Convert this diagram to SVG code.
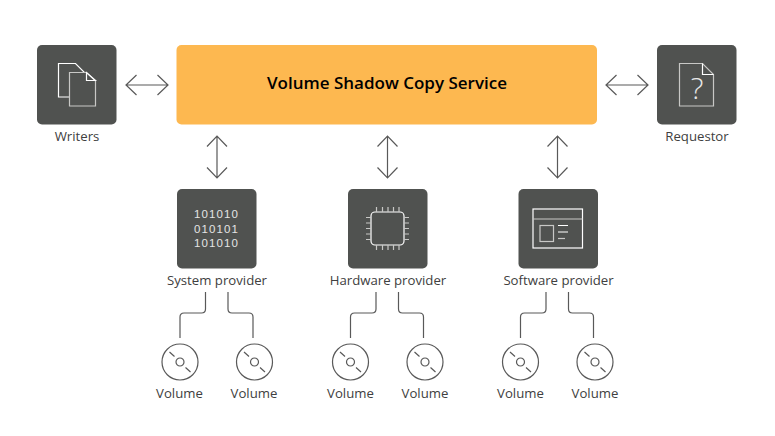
<svg xmlns="http://www.w3.org/2000/svg" width="775" height="436" viewBox="0 0 775 436">
<style>
.box{fill:#505250}
.lbl{font-family:"Open Sans","Noto Sans",sans-serif;font-size:13.2px;fill:#404040;text-anchor:middle}
.ln{fill:none;stroke:#595959;stroke-width:1.2}
.ic{fill:none;stroke:#fff;stroke-width:1.2}
.ig{fill:none;stroke:#c8c8c6;stroke-width:1.2}
.bits{font-family:"Liberation Sans",sans-serif;font-size:11.500px;fill:#e4e4e4;text-anchor:middle;letter-spacing:1.100px}
</style>
<defs>
<g id="harrow"><path class="ln" d="M-21 0H21M-10.500 -10L-21 0L-10.500 10M10.500 -10L21 0L10.500 10"/></g>
<g id="varrow"><path class="ln" d="M0 -21V21M-10 -10.500L0 -21L10 -10.500M-10 10.500L0 21L10 10.500"/></g>
<g id="vol"><circle class="ln" r="18"/><circle class="ln" r="4"/><path class="ln" d="M-10.500 -10L-5.500 -5.500M5.500 5.500L10.500 10"/></g>
<g id="pair"><path class="ln" d="M25.500 -70V-53Q25.500 -49 21.500 -49H4Q0 -49 0 -45V-24"/><path class="ln" d="M48 -70V-53Q48 -49 52 -49H69Q73 -49 73 -45V-24"/><use href="#vol"/><use href="#vol" x="74.500"/></g>
</defs>
<g id="connectors">
<use href="#harrow" x="147" y="85"/>
<use href="#harrow" x="627" y="85"/>
<use href="#varrow" x="217" y="157"/>
<use href="#varrow" x="387.500" y="157"/>
<use href="#varrow" x="557.500" y="157"/>
<use href="#pair" x="180" y="362"/>
<use href="#pair" x="350.500" y="362"/>
<use href="#pair" x="520.500" y="362"/>
</g>
<g id="service"><rect x="176.500" y="45" width="420.500" height="79.500" rx="5" fill="#fdb850"/>
<text x="387" y="88.500" text-anchor="middle" font-family="'Open Sans','Noto Sans',sans-serif" font-size="17" font-weight="600" fill="#000">Volume Shadow Copy Service</text></g>
<g id="writers"><rect class="box" x="37" y="45" width="79.500" height="79.500" rx="5"/>
<path class="ic" d="M58.500 63.500H75.500L86 74V97H58.500Z"/>
<path d="M69.500 72.500H86.500L95.500 81V106H69.500Z" fill="#505250" stroke="#c8c8c6" stroke-width="1.200"/>
<path class="ic" d="M86.500 72.500V80.500H95.500L86.500 72.500Z"/>
<text class="lbl" x="77" y="140.500">Writers</text></g>
<g id="requestor"><rect class="box" x="657" y="45" width="79.500" height="79.500" rx="5"/>
<path class="ig" d="M679.500 63.500H702.500L713.500 74.500V106H679.500Z"/>
<path class="ic" d="M702.500 63.500V74.500H713.500"/>
<text x="697" y="99" text-anchor="middle" font-family="'Open Sans',sans-serif" font-size="30" font-weight="300" fill="#e8e8e8">?</text>
<text class="lbl" x="697" y="140.500">Requestor</text></g>
<g id="system"><rect class="box" x="177" y="189" width="79.500" height="79.500" rx="5"/>
<text class="bits" x="216.500" y="218">101010</text>
<text class="bits" x="216.500" y="233">010101</text>
<text class="bits" x="216.500" y="247">101010</text>
<text class="lbl" x="217" y="284.500">System provider</text></g>
<g id="hardware"><rect class="box" x="348" y="189" width="79.500" height="79.500" rx="5"/>
<rect class="ic" x="371" y="212" width="33" height="33" rx="4"/>
<path class="ig" d="M376.500 207V212M382.500 207V212M388 207V212M393.500 207V212M399 207V212M376.500 245V250M382.500 245V250M388 245V250M393.500 245V250M399 245V250M366 217.500H371M366 223H371M366 228.500H371M366 234H371M366 239.500H371M404 217.500H409M404 223H409M404 228.500H409M404 234H409M404 239.500H409"/>
<text class="lbl" x="388" y="284.500">Hardware provider</text></g>
<g id="software"><rect class="box" x="518.500" y="189" width="79.500" height="79.500" rx="5"/>
<rect class="ic" x="533" y="209" width="49.500" height="39"/>
<path class="ig" d="M533 219H582.500"/>
<rect class="ig" x="540" y="225.500" width="13.500" height="16"/>
<path class="ic" d="M558 225.500H568M558 232H568"/>
<path class="ig" d="M558 238.500H565"/>
<text class="lbl" x="558.500" y="284.500">Software provider</text></g>
<g id="volumes">
<text class="lbl" x="179.500" y="398">Volume</text><text class="lbl" x="254" y="398">Volume</text>
<text class="lbl" x="350.500" y="398">Volume</text><text class="lbl" x="425" y="398">Volume</text>
<text class="lbl" x="520.500" y="398">Volume</text><text class="lbl" x="595" y="398">Volume</text>
</g>
</svg>
